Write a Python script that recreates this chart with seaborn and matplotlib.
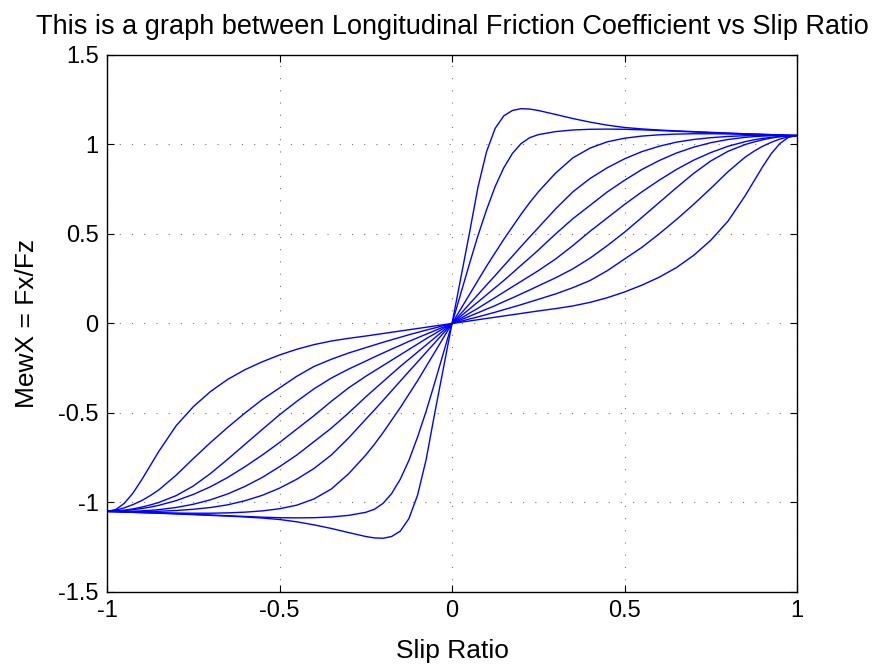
import pandas as pd
import matplotlib
matplotlib.use("Agg")
import matplotlib.pyplot as plt
import seaborn as sns
from matplotlib.ticker import FormatStrFormatter

# Slip ratio grid
slip = [-1.0, -0.975, -0.95, -0.925, -0.9, -0.875, -0.85, -0.8, -0.75, -0.7, -0.65, -0.6, -0.55, -0.5,
        -0.45, -0.4, -0.35, -0.3, -0.25, -0.225, -0.2, -0.175, -0.15, -0.125, -0.1, -0.075, -0.05, -0.025,
        0.0,
        0.025, 0.05, 0.075, 0.1, 0.125, 0.15, 0.175, 0.2, 0.225, 0.25, 0.3, 0.35, 0.4, 0.45,
        0.5, 0.55, 0.6, 0.65, 0.7, 0.75, 0.8, 0.85, 0.875, 0.9, 0.925, 0.95, 0.975, 1.0]

# MewX for each curve, steepest first
curve_1 = [-1.05, -1.051, -1.053, -1.055, -1.057, -1.058, -1.06, -1.064, -1.068, -1.072, -1.076, -1.081, -1.087, -1.095,
           -1.108, -1.125, -1.145, -1.168, -1.19, -1.198, -1.2, -1.19, -1.16, -1.09, -0.96, -0.76, -0.5, -0.25,
           0.0,
           0.25, 0.5, 0.76, 0.96, 1.09, 1.16, 1.19, 1.2, 1.198, 1.19, 1.168, 1.145, 1.125, 1.108,
           1.095, 1.087, 1.081, 1.076, 1.072, 1.068, 1.064, 1.06, 1.058, 1.057, 1.055, 1.053, 1.051, 1.05]
curve_2 = [-1.05, -1.051, -1.053, -1.055, -1.056, -1.058, -1.059, -1.062, -1.066, -1.07, -1.074, -1.078, -1.082, -1.085,
           -1.086, -1.085, -1.081, -1.072, -1.055, -1.038, -1.005, -0.95, -0.87, -0.765, -0.635, -0.49, -0.33, -0.165,
           0.0,
           0.165, 0.33, 0.49, 0.635, 0.765, 0.87, 0.95, 1.005, 1.038, 1.055, 1.072, 1.081, 1.085, 1.086,
           1.085, 1.082, 1.078, 1.074, 1.07, 1.066, 1.062, 1.059, 1.058, 1.056, 1.055, 1.053, 1.051, 1.05]
curve_3 = [-1.05, -1.051, -1.052, -1.054, -1.055, -1.056, -1.057, -1.059, -1.06, -1.06, -1.058, -1.054, -1.047, -1.035,
           -1.015, -0.98, -0.925, -0.84, -0.735, -0.675, -0.61, -0.54, -0.47, -0.395, -0.32, -0.24, -0.16, -0.08,
           0.0,
           0.08, 0.16, 0.24, 0.32, 0.395, 0.47, 0.54, 0.61, 0.675, 0.735, 0.84, 0.925, 0.98, 1.015,
           1.035, 1.047, 1.054, 1.058, 1.06, 1.06, 1.059, 1.057, 1.056, 1.055, 1.054, 1.052, 1.051, 1.05]
curve_4 = [-1.05, -1.05, -1.051, -1.051, -1.051, -1.05, -1.049, -1.045, -1.038, -1.028, -1.013, -0.99, -0.96, -0.92,
           -0.87, -0.81, -0.735, -0.64, -0.535, -0.483, -0.43, -0.376, -0.322, -0.268, -0.215, -0.161, -0.108, -0.054,
           0.0,
           0.054, 0.108, 0.161, 0.215, 0.268, 0.322, 0.376, 0.43, 0.483, 0.535, 0.64, 0.735, 0.81, 0.87,
           0.92, 0.96, 0.99, 1.013, 1.028, 1.038, 1.045, 1.049, 1.05, 1.051, 1.051, 1.051, 1.05, 1.05]
curve_5 = [-1.05, -1.05, -1.05, -1.049, -1.047, -1.044, -1.04, -1.028, -1.01, -0.985, -0.952, -0.91, -0.86, -0.8,
           -0.735, -0.66, -0.585, -0.5, -0.41, -0.367, -0.325, -0.282, -0.24, -0.2, -0.16, -0.12, -0.08, -0.04,
           0.0,
           0.04, 0.08, 0.12, 0.16, 0.2, 0.24, 0.282, 0.325, 0.367, 0.41, 0.5, 0.585, 0.66, 0.735,
           0.8, 0.86, 0.91, 0.952, 0.985, 1.01, 1.028, 1.04, 1.044, 1.047, 1.049, 1.05, 1.05, 1.05]
curve_6 = [-1.05, -1.048, -1.045, -1.04, -1.034, -1.026, -1.016, -0.99, -0.955, -0.912, -0.86, -0.8, -0.735, -0.665,
           -0.59, -0.515, -0.435, -0.36, -0.295, -0.265, -0.235, -0.205, -0.175, -0.145, -0.115, -0.085, -0.057, -0.028,
           0.0,
           0.028, 0.057, 0.085, 0.115, 0.145, 0.175, 0.205, 0.235, 0.265, 0.295, 0.36, 0.435, 0.515, 0.59,
           0.665, 0.735, 0.8, 0.86, 0.912, 0.955, 0.99, 1.016, 1.026, 1.034, 1.04, 1.045, 1.048, 1.05]
curve_7 = [-1.05, -1.048, -1.043, -1.036, -1.026, -1.014, -1.0, -0.962, -0.908, -0.838, -0.758, -0.675, -0.592, -0.51,
           -0.435, -0.365, -0.305, -0.255, -0.21, -0.187, -0.165, -0.143, -0.122, -0.1, -0.08, -0.06, -0.04, -0.02,
           0.0,
           0.02, 0.04, 0.06, 0.08, 0.1, 0.122, 0.143, 0.165, 0.187, 0.21, 0.255, 0.305, 0.365, 0.435,
           0.51, 0.592, 0.675, 0.758, 0.838, 0.908, 0.962, 1.0, 1.014, 1.026, 1.036, 1.043, 1.048, 1.05]
curve_8 = [-1.05, -1.043, -1.03, -1.012, -0.99, -0.962, -0.93, -0.848, -0.755, -0.665, -0.58, -0.5, -0.425, -0.36,
           -0.295, -0.24, -0.2, -0.165, -0.135, -0.12, -0.105, -0.091, -0.077, -0.063, -0.05, -0.037, -0.025, -0.012,
           0.0,
           0.012, 0.025, 0.037, 0.05, 0.063, 0.077, 0.091, 0.105, 0.12, 0.135, 0.165, 0.2, 0.24, 0.295,
           0.36, 0.425, 0.5, 0.58, 0.665, 0.755, 0.848, 0.93, 0.962, 0.99, 1.012, 1.03, 1.043, 1.05]
curve_9 = [-1.05, -1.04, -1.005, -0.948, -0.875, -0.795, -0.715, -0.572, -0.465, -0.38, -0.312, -0.258, -0.214, -0.176,
           -0.144, -0.118, -0.098, -0.083, -0.07, -0.063, -0.056, -0.049, -0.042, -0.035, -0.028, -0.021, -0.014, -0.007,
           0.0,
           0.007, 0.014, 0.021, 0.028, 0.035, 0.042, 0.049, 0.056, 0.063, 0.07, 0.083, 0.098, 0.118, 0.144,
           0.176, 0.214, 0.258, 0.312, 0.38, 0.465, 0.572, 0.715, 0.795, 0.875, 0.948, 1.005, 1.04, 1.05]

curves = [curve_1, curve_2, curve_3, curve_4, curve_5, curve_6, curve_7, curve_8, curve_9]

x_ticks = [-1, -0.5, 0, 0.5, 1]
y_ticks = [-1.5, -1, -0.5, 0, 0.5, 1, 1.5]

# long format table for seaborn
frames = []
for i, mu in enumerate(curves):
    frames.append(pd.DataFrame({"slip": slip, "mu": mu, "curve": i}))
df = pd.concat(frames, ignore_index=True)

sns.set_style("ticks", rc={"text.color": "black", "axes.labelcolor": "black",
                           "xtick.color": "black", "ytick.color": "black"})
plt.rcParams["font.family"] = ["Liberation Sans", "DejaVu Sans"]
plt.rcParams["axes.unicode_minus"] = False

fig = plt.figure(figsize=(8.75, 6.65), dpi=100)
ax = fig.add_axes([0.1223, 0.1098, 0.7886, 0.8075])

sns.lineplot(data=df, x="slip", y="mu", units="curve", estimator=None,
             sort=False, color="#0000ff", linewidth=1.0, ax=ax)

ax.set_xlim(-1, 1)
ax.set_ylim(-1.5, 1.5)
ax.set_xticks(x_ticks)
ax.set_yticks(y_ticks)
ax.xaxis.set_major_formatter(FormatStrFormatter("%g"))
ax.yaxis.set_major_formatter(FormatStrFormatter("%g"))

# matlab look: dotted grid, ticks inside on all sides
ax.grid(True, color="#777777", linewidth=0.8, linestyle=(0, (1, 10)))
ax.tick_params(direction="in", top=True, right=True, length=5, width=0.8,
               labelsize=17, pad=6)
for sp in ax.spines.values():
    sp.set_color("black")
    sp.set_linewidth(1.0)

ax.set_title("This is a graph between Longitudinal Friction Coefficient vs Slip Ratio",
             fontsize=19.5, pad=15)
ax.set_xlabel("Slip Ratio", fontsize=19, labelpad=12)
ax.set_ylabel("MewX = Fx/Fz", fontsize=19, labelpad=14)

fig.savefig("out.png", dpi=100)
